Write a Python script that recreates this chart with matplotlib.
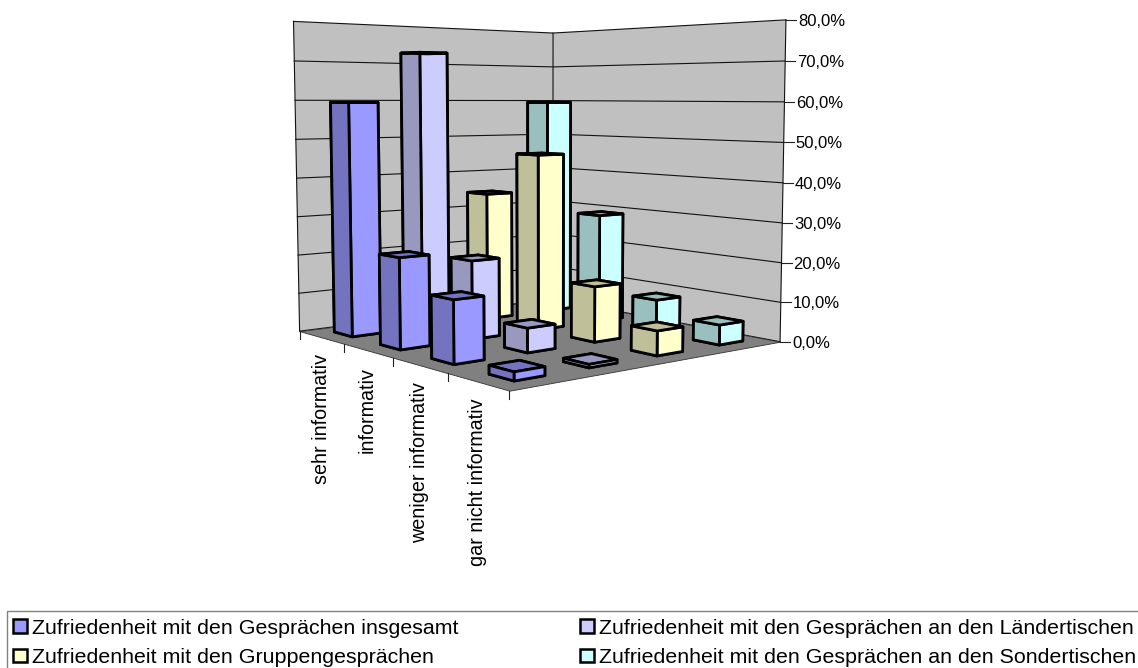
import numpy as np
import matplotlib
matplotlib.use("Agg")
import matplotlib.pyplot as plt
from matplotlib.lines import Line2D
from matplotlib.patches import Patch, Rectangle
from mpl_toolkits.mplot3d import proj3d
from mpl_toolkits.mplot3d.art3d import Poly3DCollection

plt.rcParams['font.family'] = ['Liberation Sans', 'DejaVu Sans']

# Daten
kategorien = ["sehr informativ", "informativ", "weniger informativ", "gar nicht informativ"]
serien = ["Zufriedenheit mit den Gesprächen insgesamt",
          "Zufriedenheit mit den Gesprächen an den Ländertischen",
          "Zufriedenheit mit den Gruppengesprächen",
          "Zufriedenheit mit den Gesprächen an den Sondertischen"]
insgesamt = [59.5, 22.5, 15, 2]
laender = [72.5, 20, 6, 0.8]
gruppen = [34.5, 46, 14, 6]
sonder = [59.5, 29, 8.5, 5]
werte = [insgesamt, laender, gruppen, sonder]
y_ticks = [0, 10, 20, 30, 40, 50, 60, 70, 80]

hell = ["#9999FF", "#CCCCFF", "#FFFFCC", "#CCFFFF"]
dunkel = ["#7373BF", "#9999BF", "#BFBF99", "#99BFBF"]

# Kamera: Eckpunkte des Diagramms (Welt -> Pixel im Bild)
welt = np.array([[0, 0, 0], [4, 0, 0], [4, 4, 0], [0, 4, 0], [0, 0, 80], [4, 4, 80], [0, 4, 80]], float)
pixel = np.array([[299.5, 327], [509.5, 395], [780, 337.5], [553, 303],
                  [293.5, 22], [786, 20.5], [553, 32]], float)
zeilen = []
for (x, y, z), (u, v) in zip(welt, pixel):
    zeilen.append([x, y, z, 1, 0, 0, 0, 0, -u * x, -u * y, -u * z, -u])
    zeilen.append([0, 0, 0, 0, x, y, z, 1, -v * x, -v * y, -v * z, -v])
A = np.array(zeilen)
A[:, [2, 6, 10]] *= 0.05  # z-Spalten skalieren
P = np.linalg.svd(A)[2][-1].reshape(3, 4)
P[:, 2] *= 0.05
P /= P[2, 3]
M = np.array([P[0], P[1], [-1, 1, -0.05, 10], P[2]])

fig = plt.figure(figsize=(11.38, 6.68), dpi=100)
ax = fig.add_axes([0, 0, 1, 1], projection='3d', computed_zorder=False)
ax.set_proj_type('ortho')  # sonst schneidet Line3D alles ausserhalb von [-1, 1] weg
ax.get_proj = lambda: M
ax.set_axis_off()
# das 3D-Axes ist immer quadratisch, also 668 Pixel breit und zentriert
ax.viewLim.intervalx = (235, 903)
ax.viewLim.intervaly = (668, 0)


def px(x, y, z):
    u, v, _ = proj3d.proj_transform(x, y, z, M)
    return float(u), float(v)


# Waende und Boden
wand = [[(0, 0, 0), (0, 4, 0), (0, 4, 80), (0, 0, 80)], [(0, 4, 0), (4, 4, 0), (4, 4, 80), (0, 4, 80)]]
ax.add_collection3d(Poly3DCollection(wand, facecolors="#C0C0C0", edgecolors="none", zorder=1))
boden = [[(0, 0, 0), (4, 0, 0), (4, 4, 0), (0, 4, 0)]]
ax.add_collection3d(Poly3DCollection(boden, facecolors="#808080", edgecolors="#333333", linewidths=0.6, zorder=3))

for t in y_ticks:
    ax.plot([0, 0, 4], [0, 4, 4], [t, t, t], color="#111111", lw=0.8, zorder=2)
    u, v = px(4, 4, t)
    ax.add_line(Line2D([u, u + 10], [v, v], color="#222222", lw=0.8, zorder=3))
    ax.text2D(u + 12, v, f"{t},0%", transform=ax.transData, fontsize=12, ha='left', va='center_baseline', color="black")
for xk, yk in [(0, 0), (0, 4), (4, 4)]:
    ax.plot([xk, xk], [yk, yk], [0, 80], color="#111111", lw=0.8, zorder=2)

for i in range(5):
    u, v = px(i, 0, 0)
    ax.add_line(Line2D([u, u], [v, v + 8], color="#222222", lw=0.8, zorder=3))
for i, name in enumerate(kategorien):
    u, v = px(i + 0.5, 0, 0)
    ax.text2D(u, v + 17, name, transform=ax.transData, fontsize=14.2, rotation=90, ha='center', va='top')

# Saeulen von hinten nach vorne
g = 0.3
b = 1 - 2 * g
zo = 10
for s in [3, 2, 1, 0]:
    for c in range(4):
        farben = [dunkel[s], dunkel[s], dunkel[s], hell[s], hell[s], hell[s]]
        ax.bar3d(c + g, s + g, 0, b, b, werte[s][c], color=farben, edgecolor="black",
                 linewidth=2.0, shade=False, zorder=zo)
        zo += 1

# Legende, Rahmen laeuft unten und rechts aus dem Bild
fig.add_artist(Rectangle((7 / 1138, -0.1), 1.1, 1.1 - 611 / 668, transform=fig.transFigure,
                         fill=False, edgecolor="#808080", lw=1))
griffe = [Patch(facecolor=hell[i], edgecolor="black", linewidth=1.8) for i in [0, 2, 1, 3]]
namen = [serien[i] for i in [0, 2, 1, 3]]
fig.legend(griffe, namen, ncol=2, loc='upper left', bbox_to_anchor=(13 / 1138, 1 - 618.5 / 668),
           frameon=False, fontsize=15.4, handlelength=0.65, handleheight=0.6, handletextpad=0.23,
           columnspacing=5.7, labelspacing=0.5, borderpad=0, borderaxespad=0)

fig.savefig("out.png", dpi=100)
